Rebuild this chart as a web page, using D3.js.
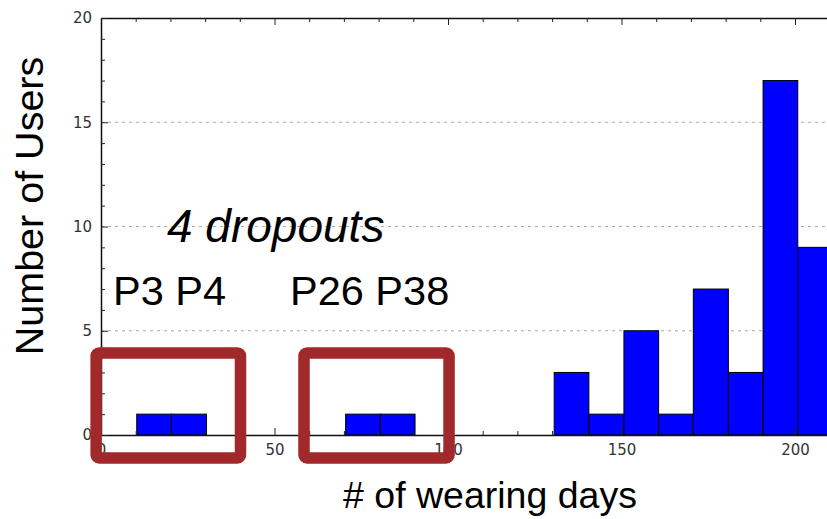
<!DOCTYPE html>
<html>
<head>
<meta charset="utf-8">
<script src="https://cdn.jsdelivr.net/npm/d3@7"></script>
<style>
  body { margin: 0; background: #fff; }
  svg { display: block; }
  .tick text { font-family: "DejaVu Sans", sans-serif; font-size: 15px; fill: #333; }
  .big { font-family: "Liberation Sans", Arial, sans-serif; fill: #000; }
</style>
</head>
<body>
<div id="container"><svg></svg></div>
<script>
// histogram bins (days) and counts
let binEdges = [10.3, 20.3, 30.4, 40.4, 50.4, 60.5, 70.5, 80.5, 90.5, 100.6, 110.6,
                120.6, 130.6, 140.6, 150.7, 160.7, 170.7, 180.8, 190.8, 200.8, 210.9];
let counts = [1, 1, 0, 0, 0, 0, 1, 1, 0, 0, 0, 0, 3, 1, 5, 1, 7, 3, 17, 9];

let xTicks = [0, 50, 100, 150, 200];
let yTicks = [0, 5, 10, 15, 20];
let gridTicks = [5, 10, 15];

// highlighted ranges: [x0, x1] days
let boxes = [[-1.4, 40.2], [58.5, 100.3]];
let boxY = [-1.1, 3.93];

let width = 827, height = 519;

function draw_main() {
    let svg = d3.select('#container').select('svg')
        .attr('width', width)
        .attr('height', height);

    let x = d3.scaleLinear().domain([0, 250]).range([101, 101 + 250 * 3.47]);
    let y = d3.scaleLinear().domain([0, 20]).range([435, 18]);

    // grid
    svg.append('g')
        .selectAll('line')
        .data(gridTicks)
        .enter()
        .append('line')
        .attr('x1', x(0)).attr('x2', width)
        .attr('y1', d => y(d)).attr('y2', d => y(d))
        .attr('stroke', '#aaa')
        .attr('stroke-width', 1)
        .attr('stroke-dasharray', '3,4');

    // bars
    let bins = counts.map((c, i) => ({x0: binEdges[i], x1: binEdges[i + 1], c: c}));
    svg.append('g')
        .selectAll('rect')
        .data(bins)
        .enter()
        .append('rect')
        .attr('x', d => x(d.x0))
        .attr('width', d => x(d.x1) - x(d.x0))
        .attr('y', d => y(d.c))
        .attr('height', d => y(0) - y(d.c))
        .attr('fill', '#0000ff')
        .attr('stroke', '#000')
        .attr('stroke-width', 1);

    let minorX = d3.range(0, 251, 10).filter(d => d % 50 != 0);
    let minorY = d3.range(0, 21, 1).filter(d => d % 5 != 0);

    // x axis bottom
    svg.append('g')
        .attr('transform', `translate(0, ${y(0)})`)
        .call(d3.axisBottom(x).tickValues(xTicks).tickSizeInner(-7).tickSizeOuter(0).tickPadding(9));
    svg.append('g')
        .attr('class', 'minor')
        .attr('transform', `translate(0, ${y(0)})`)
        .call(d3.axisBottom(x).tickValues(minorX).tickSizeInner(-4).tickSizeOuter(0).tickFormat(''));

    // x axis top
    svg.append('g')
        .attr('transform', `translate(0, ${y(20)})`)
        .call(d3.axisTop(x).tickValues(xTicks).tickSizeInner(-7).tickSizeOuter(0).tickFormat(''));
    svg.append('g')
        .attr('class', 'minor')
        .attr('transform', `translate(0, ${y(20)})`)
        .call(d3.axisTop(x).tickValues(minorX).tickSizeInner(-4).tickSizeOuter(0).tickFormat(''));

    // y axis
    svg.append('g')
        .attr('transform', `translate(${x(0)}, 0)`)
        .call(d3.axisLeft(y).tickValues(yTicks).tickSizeInner(-7).tickSizeOuter(0).tickPadding(9));
    svg.append('g')
        .attr('class', 'minor')
        .attr('transform', `translate(${x(0)}, 0)`)
        .call(d3.axisLeft(y).tickValues(minorY).tickSizeInner(-4).tickSizeOuter(0).tickFormat(''));

    svg.selectAll('.minor .domain').remove();
    svg.selectAll('.domain').attr('stroke', '#111').attr('stroke-width', 1.5);
    svg.selectAll('.tick line').attr('stroke', '#222');

    // axis labels
    svg.append('text')
        .attr('class', 'big')
        .attr('x', 490).attr('y', 508)
        .attr('text-anchor', 'middle')
        .attr('font-size', '37.5px')
        .text('# of wearing days');

    svg.append('text')
        .attr('class', 'big')
        .attr('transform', 'translate(43, 206) rotate(-90)')
        .attr('text-anchor', 'middle')
        .attr('font-size', '39.5px')
        .text('Number of Users');

    // annotations
    svg.append('text')
        .attr('class', 'big')
        .attr('x', 167).attr('y', 242)
        .attr('font-size', '46px')
        .attr('font-style', 'italic')
        .text('4 dropouts');
    svg.append('text')
        .attr('class', 'big')
        .attr('x', 113).attr('y', 305)
        .attr('font-size', '41.5px')
        .text('P3 P4');
    svg.append('text')
        .attr('class', 'big')
        .attr('x', 290).attr('y', 305)
        .attr('font-size', '41.5px')
        .text('P26 P38');

    // red boxes
    svg.append('g')
        .selectAll('rect')
        .data(boxes)
        .enter()
        .append('rect')
        .attr('x', d => x(d[0]))
        .attr('width', d => x(d[1]) - x(d[0]))
        .attr('y', y(boxY[1]))
        .attr('height', y(boxY[0]) - y(boxY[1]))
        .attr('rx', 3)
        .attr('fill', 'none')
        .attr('stroke', '#a2292b')
        .attr('stroke-width', 11.5)
        .attr('stroke-linejoin', 'round');
}

draw_main();
</script>
</body>
</html>
